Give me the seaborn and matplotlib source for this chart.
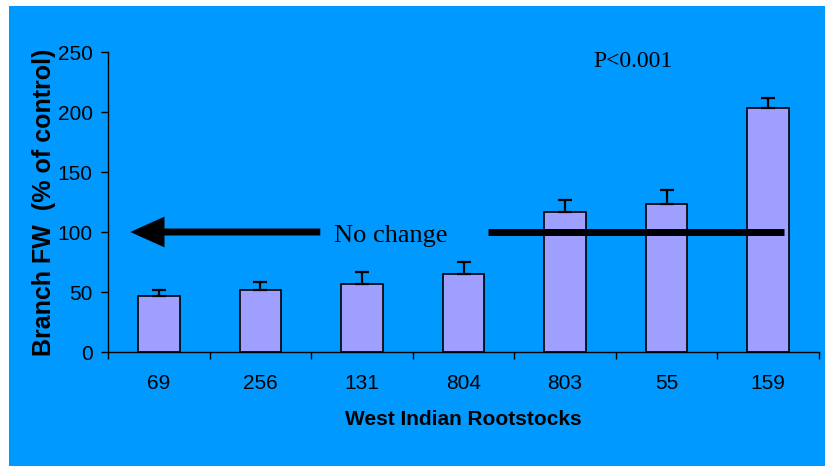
import numpy as np
import pandas as pd
import seaborn as sns
import matplotlib.pyplot as plt
from matplotlib.patches import Rectangle

# Branch fresh weight of West Indian rootstocks (% of control)
rootstocks = ["69", "256", "131", "804", "803", "55", "159"]
branch_fw = [47, 52, 57, 65, 117, 123, 203]
branch_se = [5, 6, 10, 10, 10, 12, 9]
no_change_level = 100

blue = "#0099FF"
bar_color = "#9F9FFF"

plt.rcParams["font.family"] = ["Liberation Sans", "DejaVu Sans"]

df = pd.DataFrame({"rootstock": rootstocks, "fw": branch_fw})

fig = plt.figure(figsize=(8.25, 4.66), dpi=100)
fig.patch.set_facecolor("white")
fig.patches.append(Rectangle((9 / 825, 0), 1, 1 - 6 / 466, transform=fig.transFigure,
                             facecolor=blue, edgecolor="none", zorder=-10))

ax = fig.add_axes([108 / 825, 1 - 352 / 466, 711 / 825, 300 / 466])
ax.set_facecolor("none")

sns.barplot(data=df, x="rootstock", y="fw", color=bar_color, edgecolor="black",
            linewidth=1.2, width=0.41, saturation=1, ax=ax)

# upper-only error bars, like the original chart
pos = np.arange(len(rootstocks))
ax.errorbar(pos, branch_fw, yerr=[np.zeros(len(branch_se)), branch_se], fmt="none",
            ecolor="black", elinewidth=1.6, capsize=4.7, capthick=1.6, zorder=3)

ax.set_ylim(0, 250)
ax.set_xlim(-0.5, len(rootstocks) - 0.5)
ax.set_yticks(range(0, 251, 50))
ax.set_xticks(np.arange(-0.5, len(rootstocks)), minor=True)
ax.tick_params(axis="x", which="major", length=0, pad=16, labelsize=15)
ax.tick_params(axis="x", which="minor", length=5, width=1, direction="out")
ax.tick_params(axis="y", length=5, width=1, direction="out", pad=6, labelsize=15)

for s in ["top", "right"]:
    ax.spines[s].set_visible(False)
for s in ["left", "bottom"]:
    ax.spines[s].set_linewidth(1)

ax.set_xlabel("West Indian Rootstocks", fontsize=15, fontweight="bold", labelpad=12)
ax.set_ylabel("Branch FW  (% of control)", fontsize=18, fontweight="bold", labelpad=1)

# "No change" arrow at 100%
ax.annotate("", xy=(-0.28, no_change_level), xytext=(1.59, no_change_level),
            arrowprops=dict(arrowstyle="-|>,head_length=1.0,head_width=0.45",
                            lw=5, color="black", mutation_scale=16,
                            joinstyle="miter", capstyle="butt",
                            shrinkA=0, shrinkB=0))
ax.text(2.28, no_change_level - 3, "No change", ha="center", va="center",
        fontsize=19, family=["Liberation Serif", "DejaVu Serif"])
ax.plot([3.24, 6.16], [no_change_level, no_change_level], color="black", lw=5,
        solid_capstyle="butt")

ax.text(4.67, 242, "P<0.001", ha="center", va="center", fontsize=17,
        family=["Liberation Serif", "DejaVu Serif"])

fig.savefig("out.png", dpi=100)
